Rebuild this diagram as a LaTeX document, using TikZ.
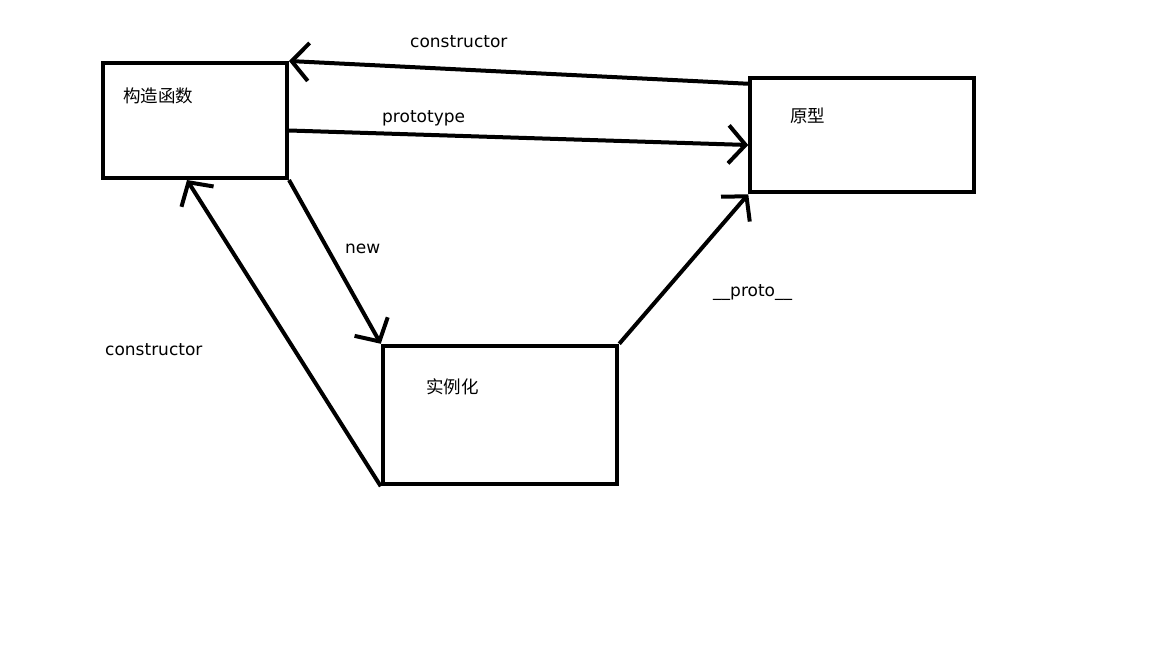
\documentclass[tikz,border=0pt]{standalone}
\usepackage{fontspec}
\setmainfont{DejaVu Sans}
\newfontfamily\cjk{Noto Sans CJK SC}
\usetikzlibrary{arrows.meta,calc}

\tikzset{
  box/.style={draw, line width=4pt, inner sep=0pt},
  link/.style={line width=4pt, -{Straight Barb[length=17pt,width=38pt,line width=4pt]}},
  lbl/.style={anchor=base west, inner sep=0pt, font=\fontsize{17}{19}\selectfont},
  zh/.style={anchor=west, inner sep=0pt, font=\cjk\fontsize{17.5}{19}\selectfont}
}

\begin{document}
\begin{tikzpicture}[x=1pt, y=-1pt]
\useasboundingbox (0,0) rectangle (1152,648);

% Boxes
\node[box, minimum width=184pt, minimum height=115pt] (ctor) at (195,120.5) {};
\node[box, minimum width=223.5pt, minimum height=114.5pt] (proto) at (862,135) {};
\node[box, minimum width=234.5pt, minimum height=138.5pt] (inst) at (500,415) {};

% Box texts
\node[zh] (ctortxt) at (123,96) {构造函数};
\node[zh] (prototxt) at (790,116) {原型};
\node[zh] (insttxt) at (426,387) {实例化};

% Arrows
\draw[link] ($(proto.north west)+(0,8)$) -- (ctor.north east);
\draw[link] ($(ctor.east)+(0,10)$) -- ($(proto.west)+(0,10)$);
\draw[link] (ctor.south east) -- (inst.north west);
\draw[link] (inst.south west) -- ($(ctor.south)+(-8,0)$);
\draw[link] (inst.north east) -- (proto.south west);

% Labels
\node[lbl] (l1) at (410,47) {constructor};
\node[lbl] (l2) at (382,122) {prototype};
\node[lbl] (l3) at (345,253) {new};
\node[lbl] (l4) at (105,355) {constructor};
\node[lbl] (l5) at (713,296) {\_\_proto\_\_};

\end{tikzpicture}
\end{document}
